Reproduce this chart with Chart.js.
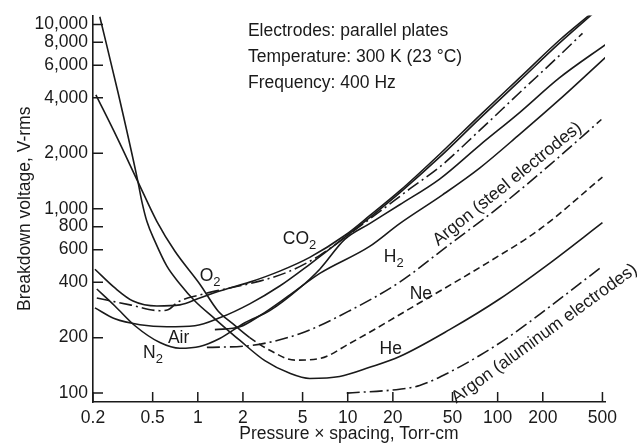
<!DOCTYPE html>
<html>
<head>
<meta charset="utf-8">
<script src="https://cdn.jsdelivr.net/npm/chart.js@4.4.1/dist/chart.umd.min.js"></script>
<style>
  html, body { margin: 0; padding: 0; background: #fff; }
</style>
</head>
<body>
<canvas id="cvs" width="641" height="443"></canvas>
<script>
//-------------------------------------------------------------------
// Paschen curves: breakdown voltage vs pressure x spacing
//-------------------------------------------------------------------
const xTicks = [0.2, 0.5, 1, 2, 5, 10, 20, 50, 100, 200, 500];
const xTickLabels = ['0.2', '0.5', '1', '2', '5', '10', '20', '50', '100', '200', '500'];
const yTicks = [100, 200, 400, 600, 800, 1000, 2000, 4000, 6000, 8000, 10000];
const yTickLabels = ['100', '200', '400', '600', '800', '1,000', '2,000', '4,000', '6,000', '8,000', '10,000'];

// pd in Torr-cm, V in volts rms
const pdHe = [0.222, 0.294, 0.399, 0.424, 0.458, 0.518, 0.622, 0.760, 0.956, 1.30, 1.91, 2.80, 4.11, 5.58, 8.84, 14.0, 22.2, 47.8, 103, 222, 500];
const vHe  = [11000, 4260, 1400, 1091, 852, 665, 488, 391, 316, 253, 193, 150, 128, 120, 123, 138, 158, 221, 324, 506, 841];

const pdNe = [0.209, 0.289, 0.399, 0.534, 0.704, 1.03, 1.36, 1.71, 2.22, 3.02, 4.43, 6.51, 10.3, 30.2, 84.3, 190, 500];
const vNe  = [4150, 2440, 1400, 852, 588, 391, 280, 238, 200, 171, 151, 154, 186, 309, 506, 772, 1486];

const pdH2 = [1.30, 1.91, 2.59, 4.11, 6.51, 14.0, 22.2, 42.9, 75.8, 140, 258, 540];
const vH2  = [221, 229, 263, 341, 446, 625, 831, 1190, 1662, 2532, 3905, 6776];

const pdN2 = [0.212, 0.280, 0.381, 0.559, 0.760, 1.03, 1.40, 2.06, 3.02, 4.79, 6.51, 9.55, 14.0, 22.2, 41.0, 75.8, 140, 258, 540];
const vN2  = [367, 297, 232, 188, 175, 179, 198, 241, 280, 372, 470, 682, 831, 1052, 1450, 2210, 3325, 5128, 7910];

const pdCO2 = [0.206, 0.280, 0.370, 0.534, 0.760, 1.03, 1.40, 2.22, 3.52, 5.58, 9.55, 14.0, 22.2, 41.0, 75.8, 140, 258, 429];
const vCO2  = [470, 372, 316, 297, 301, 328, 358, 400, 459, 545, 716, 917, 1250, 1977, 3204, 5128, 8207, 11610];

const pdAir = [0.206, 0.280, 0.411, 0.622, 0.956, 1.40, 2.22, 3.52, 5.58, 9.55, 14.0, 22.2, 41.0, 75.8, 140, 258, 429];
const vAir  = [290, 253, 235, 229, 232, 256, 305, 381, 500, 699, 895, 1220, 1905, 3086, 4940, 7910, 11400];

const pdO2 = [0.212, 0.353, 0.559, 0.632, 0.737, 1.03, 1.64, 2.59, 4.11, 6.51, 9.55, 16.3, 25.9, 41.0, 75.8, 140, 258, 368];
const vO2  = [328, 301, 280, 283, 312, 341, 372, 405, 459, 559, 699, 964, 1281, 1683, 2660, 4260, 6776, 8950];

const pdArSteel = [1.15, 2.22, 4.79, 10.3, 22.2, 47.8, 103, 222, 492];
const vArSteel  = [177, 181, 210, 280, 400, 641, 1026, 1725, 3049];

const pdArAlu = [9.85, 22.2, 30.2, 47.8, 75.8, 120, 222, 500];
const vArAlu  = [100, 105, 110, 130, 160, 203, 294, 488];

// curve names, anchored in data units (left edge, baseline)
const curveLabels = [
  { main: 'CO', sub: '2', pd: 3.69, v: 641 },
  { main: 'O',  sub: '2', pd: 1.03, v: 405 },
  { main: 'H',  sub: '2', pd: 17.4, v: 513 },
  { main: 'Ne', sub: '',  pd: 25.9, v: 324 },
  { main: 'Air', sub: '', pd: 0.632, v: 186 },
  { main: 'N',  sub: '2', pd: 0.431, v: 156 },
  { main: 'He', sub: '',  pd: 16.3, v: 164 }
];
// rotated labels, anchored at their centre
const slantLabels = [
  { text: 'Argon (steel electrodes)', pd: 116, v: 1363, angle: -39 },
  { text: 'Argon (aluminum electrodes)', pd: 205, v: 210, angle: -36 }
];
const noteLines = ['Electrodes: parallel plates', 'Temperature: 300 K (23 \u00B0C)', 'Frequency: 400 Hz'];

const INK = '#1a1a1a';
const FONT = '"Liberation Sans", Arial, sans-serif';
const FSIZE = 17.5;

//-------------------------------------------------------------------
function zip(xs, ys) {
  return xs.map((x, i) => ({ x: x, y: ys[i] }));
}

function makeSet(label, xs, ys, dash) {
  return {
    label: label,
    data: zip(xs, ys),
    borderColor: INK,
    borderWidth: 1.6,
    borderDash: dash || [],
    pointRadius: 0,
    fill: false,
    cubicInterpolationMode: 'monotone'
  };
}

const dashDot = [13, 4, 2, 4];
let neSet = makeSet('Ne', pdNe, vNe);
neSet.segment = {
  borderDash: (ctx) => ctx.p0.parsed.x >= 2.2 ? [7, 4] : undefined
};

const datasets = [
  makeSet('He', pdHe, vHe),
  neSet,
  makeSet('H2', pdH2, vH2),
  makeSet('N2', pdN2, vN2),
  makeSet('CO2', pdCO2, vCO2),
  makeSet('Air', pdAir, vAir),
  makeSet('O2', pdO2, vO2, dashDot),
  makeSet('Argon steel', pdArSteel, vArSteel, dashDot),
  makeSet('Argon aluminum', pdArAlu, vArAlu, dashDot)
];

//-------------------------------------------------------------------
// plugins
//-------------------------------------------------------------------
const innerTicks = {
  id: 'innerTicks',
  afterDatasetsDraw(chart) {
    const { ctx, chartArea, scales } = chart;
    ctx.save();
    ctx.strokeStyle = INK;
    ctx.lineWidth = 1.5;
    ctx.beginPath();
    for (let v of yTicks) {
      let y = scales.y.getPixelForValue(v);
      ctx.moveTo(chartArea.left, y);
      ctx.lineTo(chartArea.left + 10, y);
    }
    for (let v of xTicks) {
      let x = scales.x.getPixelForValue(v);
      ctx.moveTo(x, chartArea.bottom);
      ctx.lineTo(x, chartArea.bottom - 10);
    }
    ctx.stroke();
    ctx.restore();
  }
};

const textLabels = {
  id: 'textLabels',
  afterDatasetsDraw(chart) {
    const { ctx, scales } = chart;
    ctx.save();
    ctx.fillStyle = INK;
    ctx.textBaseline = 'alphabetic';
    ctx.textAlign = 'left';

    for (let lab of curveLabels) {
      let x = scales.x.getPixelForValue(lab.pd);
      let y = scales.y.getPixelForValue(lab.v);
      ctx.font = FSIZE + 'px ' + FONT;
      ctx.fillText(lab.main, x, y);
      if (lab.sub) {
        let w = ctx.measureText(lab.main).width;
        ctx.font = '13px ' + FONT;
        ctx.fillText(lab.sub, x + w, y + 5);
      }
    }

    ctx.font = FSIZE + 'px ' + FONT;
    let nx = scales.x.getPixelForValue(2.16);
    let ny = scales.y.getPixelForValue(8624);
    noteLines.forEach((line, i) => ctx.fillText(line, nx, ny + i * 26));

    ctx.textAlign = 'center';
    ctx.textBaseline = 'middle';
    for (let lab of slantLabels) {
      ctx.save();
      ctx.translate(scales.x.getPixelForValue(lab.pd), scales.y.getPixelForValue(lab.v));
      ctx.rotate(lab.angle * Math.PI / 180);
      ctx.fillText(lab.text, 0, 0);
      ctx.restore();
    }
    ctx.restore();
  }
};

//-------------------------------------------------------------------
const ctx = document.getElementById('cvs').getContext('2d');
const chart = new Chart(ctx, {
  type: 'line',
  data: { datasets: datasets },
  plugins: [innerTicks, textLabels],
  options: {
    responsive: false,
    animation: false,
    layout: { padding: { top: 12, right: 36, left: 0, bottom: 0 } },
    plugins: { legend: { display: false }, tooltip: { enabled: false } },
    scales: {
      x: {
        type: 'logarithmic',
        min: 0.2,
        max: 520,
        afterBuildTicks: (scale) => { scale.ticks = xTicks.map(v => ({ value: v })); },
        afterFit: (scale) => { scale.height = 41; },
        grid: { display: true, drawOnChartArea: false, drawTicks: false },
        border: { display: true, color: INK, width: 1.6 },
        ticks: {
          autoSkip: false,
          maxRotation: 0,
          padding: 6,
          color: INK,
          font: { family: FONT, size: FSIZE },
          callback: (val, i) => xTickLabels[i]
        },
        title: {
          display: true,
          text: 'Pressure \u00D7 spacing, Torr-cm',
          color: INK,
          font: { family: FONT, size: FSIZE, lineHeight: 1 },
          padding: { top: 0, bottom: 0 }
        }
      },
      y: {
        type: 'logarithmic',
        min: 89.5,
        max: 11180,
        afterBuildTicks: (scale) => { scale.ticks = yTicks.map(v => ({ value: v })); },
        afterFit: (scale) => { scale.width = 93; },
        grid: { display: true, drawOnChartArea: false, drawTicks: false },
        border: { display: true, color: INK, width: 1.6 },
        ticks: {
          autoSkip: false,
          padding: 5,
          color: INK,
          font: { family: FONT, size: FSIZE },
          callback: (val, i) => yTickLabels[i]
        },
        title: {
          display: true,
          text: 'Breakdown voltage, V-rms',
          color: INK,
          font: { family: FONT, size: FSIZE },
          padding: { top: 15, bottom: 0 }
        }
      }
    }
  }
});
</script>
</body>
</html>
